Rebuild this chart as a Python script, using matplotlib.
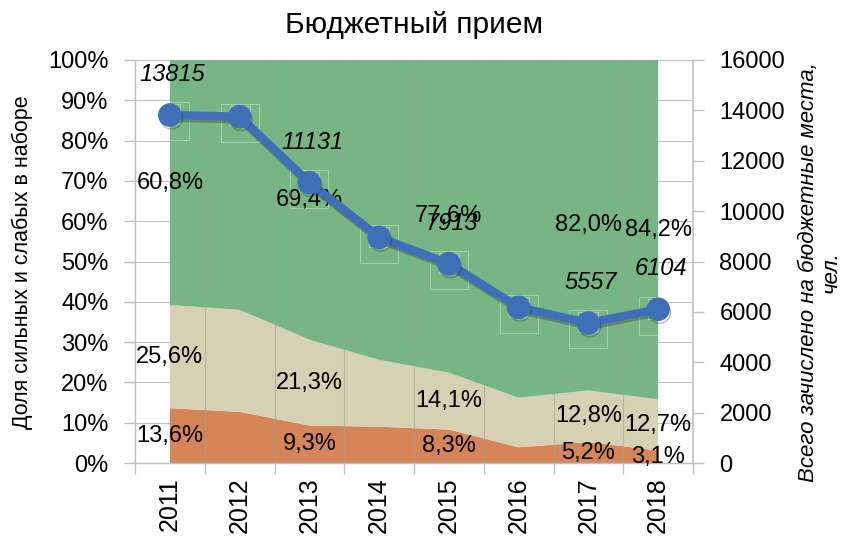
import matplotlib
matplotlib.use("Agg")
import matplotlib.pyplot as plt
import matplotlib.patheffects as pe
import matplotlib.transforms as mtransforms
import numpy as np

plt.rcParams['font.family'] = ['Liberation Sans', 'DejaVu Sans']

years = ["2011", "2012", "2013", "2014", "2015", "2016", "2017", "2018"]
weak = [13.6, 12.7, 9.3, 9.0, 8.3, 3.9, 5.2, 3.1]
middle = [25.6, 25.3, 21.3, 16.6, 14.1, 12.3, 12.8, 12.7]
strong = [60.8, 62.0, 69.4, 74.4, 77.6, 83.8, 82.0, 84.2]
enrolled = [13815, 13750, 11131, 8960, 7913, 6180, 5557, 6104]
labeled_idx = [0, 2, 4, 6, 7]

c_weak = "#D68559"
c_mid = "#D6D1B2"
c_strong = "#77B684"
c_line = "#3E6FB7"
grid_c = "#BFBFBF"

fig = plt.figure(figsize=(8.46, 5.38), dpi=100)
ax = fig.add_axes([135/846, 1-463/538, (693-135)/846, (463-60)/538])

x = np.arange(len(years))
ax.stackplot(x, weak, middle, strong, colors=[c_weak, c_mid, c_strong], zorder=1)

ax.set_xlim(-0.5, len(years) - 0.5)
ax.set_ylim(0, 100)
ax.set_yticks(np.arange(0, 101, 10))
ax.set_yticklabels([f"{v}%" for v in range(0, 101, 10)], fontsize=17)
ax.yaxis.grid(True, color=grid_c, lw=0.8)
ax.set_axisbelow(True)
for b in np.arange(0.5, len(years) - 0.5, 1):
    ax.axvline(b, color="#9DA59A", lw=0.8, zorder=1.5, alpha=0.6)

ax.set_xticks(x)
ax.set_xticklabels(years, rotation=90, fontsize=18)
ax.set_xticks(np.arange(-0.5, len(years), 1), minor=True)
ax.tick_params(axis='x', which='major', length=0, pad=10)
ax.tick_params(axis='x', which='minor', length=8, color=grid_c, width=1)
ax.tick_params(axis='y', length=8, color=grid_c, width=1, pad=11)
for s in ['top', 'right']:
    ax.spines[s].set_visible(False)
for s in ['left', 'bottom']:
    ax.spines[s].set_color(grid_c)
    ax.spines[s].set_linewidth(1)

def fmt(v):
    return f"{v:.1f}%".replace(".", ",")

for i in labeled_idx:
    b0 = 0
    for arr in (weak, middle, strong):
        ax.text(x[i], b0 + arr[i] / 2, fmt(arr[i]), ha="center", va="center",
                fontsize=17, zorder=5)
        b0 += arr[i]

ax2 = ax.twinx()
ax2.set_ylim(0, 16000)
ax2.set_yticks(np.arange(0, 16001, 2000))
ax2.set_yticklabels([str(v) for v in range(0, 16001, 2000)], fontsize=17)
ax2.tick_params(axis='y', length=8, color=grid_c, width=1, pad=11)
for s in ['top', 'left', 'bottom']:
    ax2.spines[s].set_visible(False)
ax2.spines['right'].set_color(grid_c)
ax2.spines['right'].set_linewidth(1.2)

# faint square marker frames behind the points
big_tr = mtransforms.offset_copy(ax2.transData, fig=fig, x=0, y=-4.5, units="points")
small_tr = mtransforms.offset_copy(ax2.transData, fig=fig, x=0, y=0.5, units="points")
ax2.plot(x, enrolled, ls="none", marker="s", markersize=28, markerfacecolor="none",
         markeredgecolor="white", markeredgewidth=0.7, alpha=0.35, transform=big_tr, zorder=2)
ax2.plot(x, enrolled, ls="none", marker="s", markersize=15, markerfacecolor="none",
         markeredgecolor="white", markeredgewidth=0.7, alpha=0.35, transform=small_tr, zorder=2)

ax2.plot(x, enrolled, color=c_line, lw=6, marker="o", markersize=16,
         solid_joinstyle="round", solid_capstyle="round", zorder=3,
         path_effects=[pe.SimpleLineShadow(offset=(1, -2), alpha=0.3, shadow_color="#222222"),
                       pe.Normal()])
for i in labeled_idx:
    ax2.annotate(str(enrolled[i]), (x[i], enrolled[i]), xytext=(2, 29),
                 textcoords="offset points", ha="center", va="center",
                 fontsize=17, style="italic", zorder=6)

fig.text(22/846, 1 - 262/538, "Доля сильных и слабых в наборе", rotation=90,
         ha="center", va="center", fontsize=15.5)
fig.text(820/846, 1 - 272/538, "Всего зачислено на бюджетные места,\nчел.",
         rotation=90, ha="center", va="center", multialignment="center",
         fontsize=16, style="italic", linespacing=1.1)

fig.text(414/846, 1 - 25/538, "Бюджетный прием", ha="center", va="center", fontsize=21.5)

fig.savefig("out.png", dpi=100)
